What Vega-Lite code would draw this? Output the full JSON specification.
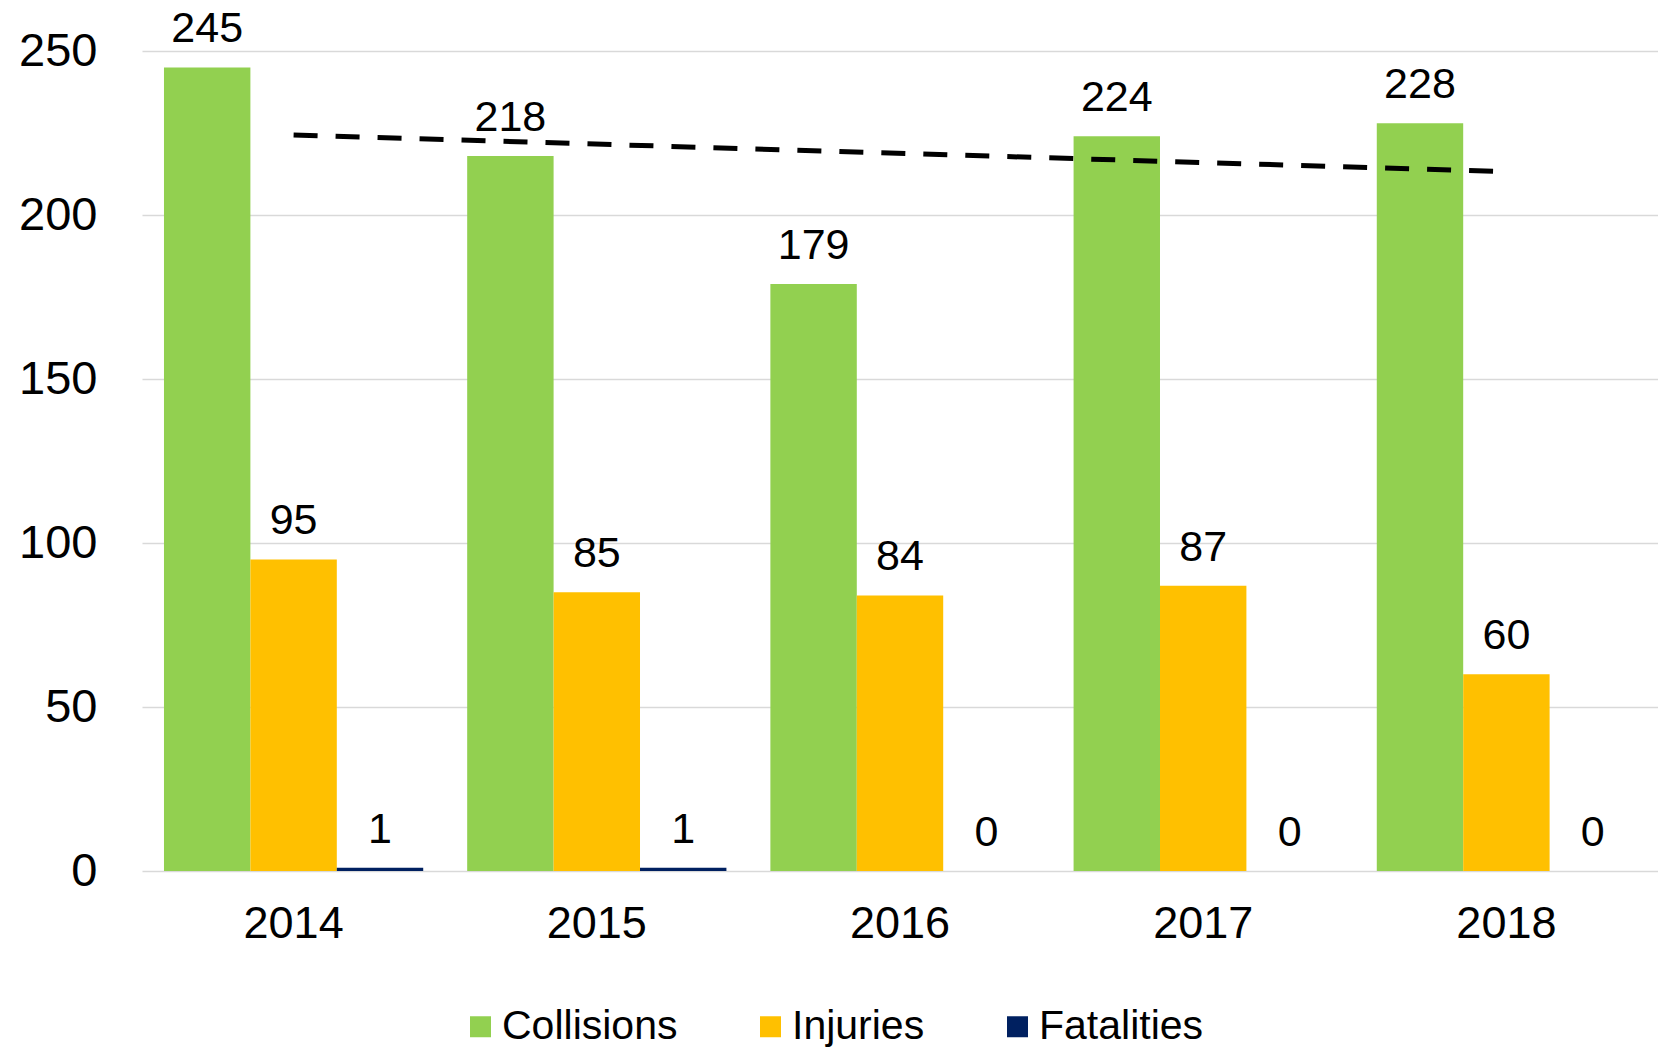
{
  "$schema": "https://vega.github.io/schema/vega-lite/v6.json",
  "autosize": {"type": "none"},
  "width": 1516,
  "height": 820,
  "padding": {"left": 142, "top": 51, "right": 0, "bottom": 176},
  "background": "white",
  "config": {
    "view": {"stroke": null},
    "font": "Liberation Sans",
    "axis": {"labelFont": "Liberation Sans", "labelColor": "#000000"},
    "legend": {"labelFont": "Liberation Sans", "labelColor": "#000000"}
  },
  "data": {
    "values": [
      {"year": "2014", "series": "Collisions", "value": 245},
      {"year": "2014", "series": "Injuries", "value": 95},
      {"year": "2014", "series": "Fatalities", "value": 1},
      {"year": "2015", "series": "Collisions", "value": 218},
      {"year": "2015", "series": "Injuries", "value": 85},
      {"year": "2015", "series": "Fatalities", "value": 1},
      {"year": "2016", "series": "Collisions", "value": 179},
      {"year": "2016", "series": "Injuries", "value": 84},
      {"year": "2016", "series": "Fatalities", "value": 0},
      {"year": "2017", "series": "Collisions", "value": 224},
      {"year": "2017", "series": "Injuries", "value": 87},
      {"year": "2017", "series": "Fatalities", "value": 0},
      {"year": "2018", "series": "Collisions", "value": 228},
      {"year": "2018", "series": "Injuries", "value": 60},
      {"year": "2018", "series": "Fatalities", "value": 0}
    ]
  },
  "layer": [
    {
      "mark": {"type": "bar"},
      "encoding": {
        "x": {
          "field": "year", "type": "nominal",
          "scale": {"paddingInner": 0.145, "paddingOuter": 0.0725},
          "axis": {"title": null, "labelAngle": 0, "labelFontSize": 45, "labelPadding": 30, "domain": false, "ticks": false, "grid": false}
        },
        "xOffset": {
          "field": "series", "type": "nominal",
          "sort": ["Collisions", "Injuries", "Fatalities"],
          "scale": {"paddingInner": 0, "paddingOuter": 0}
        },
        "y": {
          "field": "value", "type": "quantitative",
          "scale": {"domain": [0, 250], "nice": false, "zero": true},
          "axis": {"values": [0, 50, 100, 150, 200, 250], "title": null, "labelFontSize": 47, "labelPadding": 45, "domain": false, "ticks": false, "gridColor": "#D9D9D9", "gridWidth": 1.5}
        },
        "color": {
          "field": "series", "type": "nominal",
          "sort": ["Collisions", "Injuries", "Fatalities"],
          "scale": {"domain": ["Collisions", "Injuries", "Fatalities"], "range": ["#92D050", "#FFC000", "#002060"]},
          "legend": {
            "orient": "none", "legendX": 318, "legendY": 955, "direction": "horizontal",
            "title": null, "symbolType": "square", "symbolSize": 441, "symbolStrokeWidth": 0,
            "labelFontSize": 41, "labelOffset": 1, "labelLimit": 500, "columnPadding": 72, "padding": 0
          }
        }
      }
    },
    {
      "mark": {"type": "text", "baseline": "alphabetic", "dy": -25, "fontSize": 43, "color": "#000000"},
      "encoding": {
        "x": {"field": "year", "type": "nominal"},
        "xOffset": {"field": "series", "type": "nominal", "sort": ["Collisions", "Injuries", "Fatalities"]},
        "y": {"field": "value", "type": "quantitative", "scale": {"domain": [0, 250], "nice": false}},
        "text": {"field": "value", "type": "quantitative"}
      }
    },
    {
      "data": {"values": [{"year": "2014", "value": 224.4}, {"year": "2018", "value": 213.2}]},
      "mark": {"type": "line", "color": "#000000", "strokeWidth": 5, "strokeDash": [24, 18]},
      "encoding": {
        "x": {"field": "year", "type": "nominal"},
        "y": {"field": "value", "type": "quantitative", "scale": {"domain": [0, 250], "nice": false}}
      }
    }
  ]
}
